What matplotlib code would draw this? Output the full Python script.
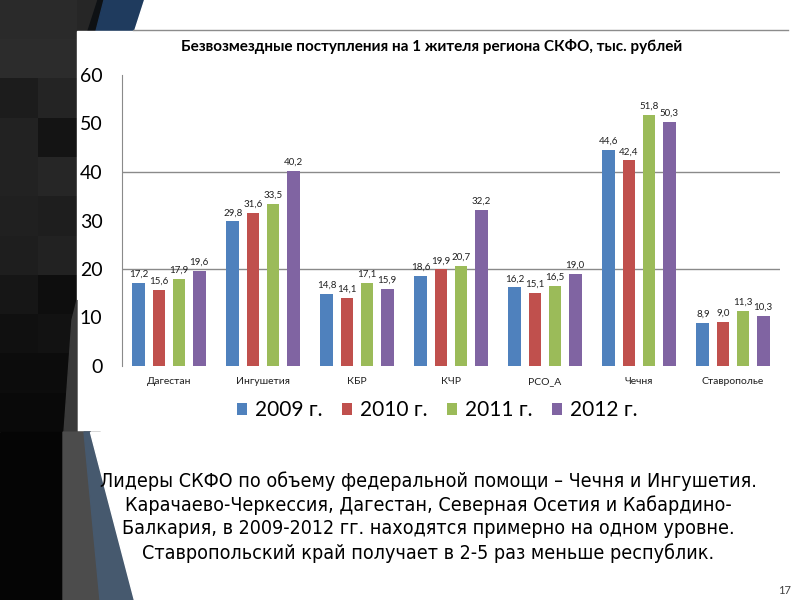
import matplotlib
matplotlib.use("Agg")
import matplotlib.pyplot as plt
import numpy as np
from matplotlib.patches import Polygon, Rectangle

plt.rcParams['font.family'] = ['Lato', 'DejaVu Sans']

# chart data
regions = ['Дагестан', 'Ингушетия', 'КБР', 'КЧР', 'РСО_А', 'Чечня', 'Ставрополье']
years = ['2009 г.', '2010 г.', '2011 г.', '2012 г.']
v2009 = [17.2, 29.8, 14.8, 18.6, 16.2, 44.6, 8.9]
v2010 = [15.6, 31.6, 14.1, 19.9, 15.1, 42.4, 9.0]
v2011 = [17.9, 33.5, 17.1, 20.7, 16.5, 51.8, 11.3]
v2012 = [19.6, 40.2, 15.9, 32.2, 19.0, 50.3, 10.3]
colors = ['#4F81BD', '#C0504D', '#9BBB59', '#8064A2']

title = 'Безвозмездные поступления на 1 жителя региона СКФО, тыс. рублей'
notes = [
    'Лидеры СКФО по объему федеральной помощи – Чечня и Ингушетия.',
    'Карачаево-Черкессия, Дагестан, Северная Осетия и Кабардино-',
    'Балкария, в 2009-2012 гг. находятся примерно на одном уровне.',
    'Ставропольский край получает в 2-5 раз меньше республик.',
]

# dark checker squares of the slide background (grey levels)
checker = [
    [0x2a, 0x2a, 0x26],
    [0x2c, 0x2c, 0x2a],
    [0x1c, 0x24, 0x22],
    [0x22, 0x14, 0x1a],
    [0x22, 0x26, 0x20],
    [0x20, 0x1e, 0x1e],
    [0x1e, 0x22, 0x1c],
    [0x16, 0x0e, 0x12],
    [0x10, 0x12, 0x10],
    [0x0c, 0x0c, 0x0c],
    [0x09, 0x09, 0x09],
]

fig = plt.figure(figsize=(8, 6), dpi=100, facecolor='white')

# slide background in pixel coordinates
bg = fig.add_axes([0, 0, 1, 1])
bg.axis('off')
bg.imshow(np.array(checker, dtype=float), cmap='gray', vmin=0, vmax=255,
          extent=(0, 115, 432, 0), aspect='auto', interpolation='nearest', zorder=0)
bg.add_patch(Polygon([(98, 0), (106, 0), (96, 31), (88, 31)], color='#0e1114', zorder=1))
bg.add_patch(Polygon([(104, 0), (144, 0), (134, 31), (96, 31)], color='#1f3b5e', zorder=1))
bg.add_patch(Polygon([(144, 0), (800, 0), (800, 31), (134, 31)], color='white', zorder=1))
bg.plot([133, 788], [30, 30], color='#8c8c8c', lw=1, zorder=2)
bg.add_patch(Rectangle((77, 31), 723, 401, color='white', zorder=1))
bg.add_patch(Polygon([(72, 320), (77, 300), (77, 432), (64, 432)], color='#3a3a3a', zorder=1))
bg.add_patch(Rectangle((0, 432), 100, 168, color='#050505', zorder=1))
bg.add_patch(Polygon([(63, 432), (90, 432), (102, 600), (63, 600)], color='#4c4c4c', zorder=1))
bg.add_patch(Polygon([(84, 432), (90, 432), (134, 600), (100, 600)], color='#46596e', zorder=1))
bg.add_patch(Polygon([(90, 432), (800, 432), (800, 600), (134, 600)], color='white', zorder=1))
bg.set_xlim(0, 800)
bg.set_ylim(600, 0)

# bar chart
ax = fig.add_axes([122 / 800, 1 - 366 / 600, 658 / 800, 291 / 600])
x = np.arange(len(regions))
pitch = 0.213
width = 0.138
series = [v2009, v2010, v2011, v2012]
for k, (vals, c, lab) in enumerate(zip(series, colors, years)):
    pos = x + (k - 1.5) * pitch
    ax.bar(pos, vals, width=width, color=c, label=lab, zorder=3)
    for p, v in zip(pos, vals):
        ax.annotate(f'{v:.1f}'.replace('.', ','), (p, v), xytext=(0, 3),
                    textcoords='offset points', ha='center', va='bottom',
                    fontsize=7, color='#202020')

ax.set_xlim(-0.5, len(regions) - 0.5)
ax.set_ylim(0, 60)
ax.set_yticks(range(0, 61, 10))
ax.set_xticks(x)
ax.set_xticklabels(regions, fontsize=7.5, color='#202020')
ax.tick_params(axis='y', labelsize=14, length=0, pad=14)
ax.tick_params(axis='x', length=0, pad=8)
for g in (20, 40):
    ax.axhline(g, color='#8a8a8a', lw=1, zorder=1)
for s in ('top', 'right', 'bottom'):
    ax.spines[s].set_visible(False)
ax.spines['left'].set_color('#8a8a8a')
ax.patch.set_alpha(0)

fig.text(432 / 800, 1 - 47 / 600, title, ha='center', va='center',
         fontsize=11, fontweight='bold', color='black')

fig.legend(loc='center', bbox_to_anchor=(437 / 800, 1 - 410 / 600), ncol=4,
           frameon=False, fontsize=15, handlelength=0.5, handleheight=0.5,
           handletextpad=0.35, columnspacing=0.95)

for i, line in enumerate(notes):
    fig.text(428 / 800, 1 - (481 + 24 * i) / 600, line, ha='center', va='center',
             fontsize=14.1, family=['Liberation Sans Narrow', 'DejaVu Sans'],
             fontstretch='condensed', color='black')

fig.text(785 / 800, 1 - 590 / 600, '17', ha='center', va='center',
         fontsize=8, color='#404040')

fig.savefig('out.png', dpi=100)
